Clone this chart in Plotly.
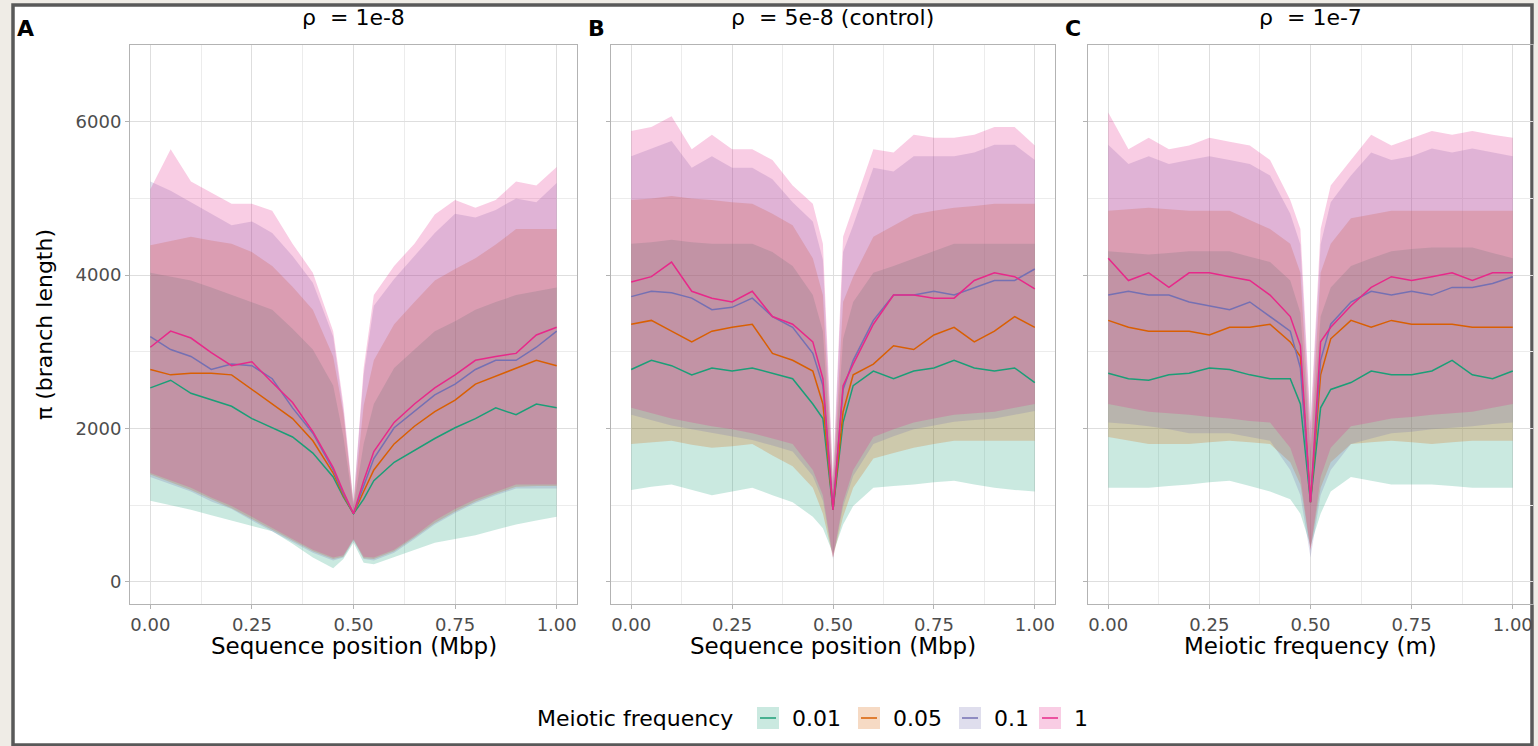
import plotly.graph_objects as go

# ---------------- data ----------------
X = [0.0, 0.05, 0.1, 0.15, 0.2, 0.25, 0.3, 0.35, 0.4, 0.45, 0.475, 0.5,
     0.525, 0.55, 0.6, 0.65, 0.7, 0.75, 0.8, 0.85, 0.9, 0.95, 1.0]

SERIES = ["0.01", "0.05", "0.1", "1"]
COLORS = ["#1B9E77", "#D95F02", "#7570B3", "#E7298A"]
PANEL_TITLES = ["ρ  = 1e-8", "ρ  = 5e-8 (control)", "ρ  = 1e-7"]
PANEL_TAGS = ["A", "B", "C"]
X_TITLES = ["Sequence position (Mbp)", "Sequence position (Mbp)", "Meiotic frequency (m)"]
Y_TITLE = "π (branch length)"
LEGEND_TITLE = "Meiotic frequency"
X_TICK_VALS = [0.0, 0.25, 0.5, 0.75, 1.0]
X_TICK_TEXT = ["0.00", "0.25", "0.50", "0.75", "1.00"]
X_MINOR = [0.125, 0.375, 0.625, 0.875]
Y_TICK_VALS = [0, 2000, 4000, 6000]
Y_MINOR = [1000, 3000, 5000]

# Panel A (rho = 1e-8)
A_green_mean = [2530, 2630, 2460, 2370, 2290, 2130, 2010, 1890, 1680, 1370, 1110, 890, 1080, 1320, 1560, 1720, 1870, 2010, 2130, 2270, 2180, 2320, 2270]
A_orange_mean = [2770, 2700, 2720, 2720, 2700, 2510, 2320, 2130, 1840, 1420, 1130, 890, 1180, 1460, 1800, 2030, 2220, 2370, 2580, 2680, 2790, 2890, 2820]
A_purple_mean = [3200, 3030, 2940, 2770, 2840, 2820, 2650, 2270, 1940, 1460, 1150, 890, 1250, 1610, 2010, 2220, 2440, 2580, 2770, 2890, 2890, 3060, 3270]
A_pink_mean = [3060, 3270, 3180, 2990, 2820, 2870, 2600, 2340, 1960, 1490, 1180, 890, 1320, 1700, 2080, 2320, 2530, 2700, 2890, 2940, 2980, 3220, 3320]

A_green_hi = [4030, 3980, 3930, 3840, 3740, 3650, 3550, 3300, 3030, 2560, 1900, 980, 1800, 2320, 2790, 3030, 3270, 3400, 3550, 3650, 3740, 3790, 3840]
A_orange_hi = [4390, 4450, 4500, 4450, 4410, 4300, 4120, 3850, 3550, 2940, 2200, 1000, 2300, 2890, 3360, 3650, 3930, 4080, 4220, 4400, 4600, 4600, 4600]
A_purple_hi = [5220, 5100, 4950, 4800, 4650, 4700, 4550, 4250, 3900, 3200, 2250, 1030, 2700, 3600, 3950, 4250, 4550, 4800, 4750, 4850, 5000, 4950, 5200]
A_pink_hi = [5120, 5640, 5220, 5070, 4930, 4930, 4840, 4410, 4030, 3270, 2320, 1050, 2790, 3740, 4120, 4410, 4790, 4980, 4880, 4980, 5220, 5170, 5410]

A_green_lo = [1060, 1000, 940, 870, 800, 730, 660, 500, 320, 180, 300, 510, 250, 230, 320, 420, 510, 560, 610, 680, 750, 800, 850]
A_orange_lo = [1400, 1300, 1200, 1080, 960, 820, 680, 540, 400, 300, 330, 550, 310, 300, 400, 580, 770, 920, 1050, 1150, 1240, 1250, 1250]
A_purple_lo = [1370, 1280, 1180, 1050, 950, 800, 660, 520, 380, 280, 320, 540, 300, 280, 380, 560, 750, 900, 1030, 1130, 1220, 1220, 1220]
A_pink_lo = [1420, 1320, 1230, 1100, 990, 850, 700, 560, 420, 320, 350, 560, 330, 320, 420, 600, 800, 950, 1080, 1180, 1270, 1270, 1270]

# Panel B (rho = 5e-8, control)
B_green_mean = [2770, 2890, 2820, 2700, 2790, 2750, 2790, 2720, 2650, 2320, 2130, 940, 2080, 2560, 2750, 2650, 2750, 2790, 2890, 2790, 2750, 2790, 2600]
B_orange_mean = [3360, 3410, 3270, 3130, 3270, 3320, 3360, 2980, 2890, 2750, 2320, 940, 2220, 2700, 2840, 3080, 3030, 3220, 3320, 3130, 3270, 3460, 3320]
B_purple_mean = [3720, 3790, 3770, 3700, 3550, 3580, 3700, 3460, 3320, 2980, 2560, 940, 2510, 2890, 3410, 3740, 3740, 3790, 3740, 3840, 3930, 3930, 4080]
B_pink_mean = [3910, 3980, 4170, 3790, 3700, 3650, 3790, 3460, 3360, 3130, 2650, 940, 2560, 2840, 3360, 3740, 3740, 3700, 3700, 3930, 4030, 3980, 3820]

B_green_hi = [4410, 4430, 4460, 4430, 4410, 4410, 4410, 4300, 4120, 3740, 3270, 1200, 3170, 3650, 4030, 4120, 4220, 4310, 4410, 4410, 4410, 4410, 4410]
B_orange_hi = [4980, 5000, 5030, 5000, 4980, 4950, 4930, 4800, 4650, 4220, 3740, 1250, 3650, 3980, 4500, 4650, 4790, 4840, 4880, 4900, 4930, 4930, 4930]
B_purple_hi = [5550, 5650, 5750, 5400, 5550, 5400, 5400, 5250, 4950, 4700, 4200, 1300, 4300, 4650, 5400, 5350, 5550, 5550, 5550, 5600, 5700, 5700, 5500]
B_pink_hi = [5880, 5930, 6070, 5640, 5830, 5640, 5640, 5500, 5170, 4930, 4410, 1370, 4500, 4880, 5640, 5600, 5830, 5790, 5790, 5830, 5930, 5930, 5690]

B_green_lo = [1200, 1240, 1270, 1200, 1130, 1180, 1230, 1130, 1040, 850, 700, 370, 750, 990, 1230, 1250, 1270, 1300, 1320, 1270, 1230, 1200, 1180]
B_orange_lo = [1800, 1820, 1840, 1790, 1750, 1770, 1800, 1650, 1510, 1230, 890, 320, 850, 1230, 1610, 1680, 1750, 1800, 1840, 1840, 1840, 1840, 1840]
B_purple_lo = [2180, 2110, 2040, 1990, 1940, 1900, 1850, 1780, 1700, 1380, 1060, 300, 980, 1380, 1800, 1900, 1990, 2040, 2090, 2110, 2130, 2180, 2230]
B_pink_lo = [2270, 2200, 2130, 2080, 2030, 1990, 1940, 1870, 1800, 1460, 1130, 320, 1040, 1460, 1890, 1990, 2080, 2130, 2180, 2200, 2220, 2270, 2320]

# Panel C (rho = 1e-7)
C_green_mean = [2720, 2650, 2630, 2700, 2720, 2790, 2770, 2700, 2650, 2650, 2320, 1040, 2270, 2510, 2600, 2750, 2700, 2700, 2750, 2890, 2700, 2650, 2750]
C_orange_mean = [3410, 3320, 3270, 3270, 3270, 3220, 3320, 3320, 3360, 3130, 2940, 1040, 2700, 3170, 3410, 3320, 3410, 3360, 3360, 3360, 3320, 3320, 3320]
C_purple_mean = [3740, 3790, 3740, 3740, 3650, 3600, 3550, 3650, 3460, 3270, 2790, 1040, 2890, 3360, 3650, 3790, 3740, 3790, 3740, 3840, 3840, 3890, 3980]
C_pink_mean = [4220, 3930, 4030, 3840, 4030, 4030, 3980, 3930, 3740, 3460, 3080, 1040, 3130, 3320, 3600, 3840, 3980, 3930, 3980, 4030, 3930, 4030, 4030]

C_green_hi = [4310, 4290, 4270, 4290, 4310, 4310, 4310, 4240, 4170, 3930, 3510, 1700, 3460, 3840, 4120, 4220, 4310, 4340, 4360, 4360, 4360, 4290, 4220]
C_orange_hi = [4840, 4860, 4880, 4860, 4840, 4840, 4840, 4720, 4600, 4410, 4030, 1800, 4030, 4410, 4740, 4790, 4840, 4840, 4840, 4840, 4840, 4840, 4840]
C_purple_hi = [5700, 5450, 5550, 5450, 5500, 5550, 5500, 5450, 5300, 4800, 4400, 2000, 4400, 4950, 5300, 5600, 5500, 5550, 5650, 5600, 5650, 5600, 5550]
C_pink_hi = [6120, 5640, 5790, 5640, 5690, 5790, 5740, 5690, 5500, 4980, 4600, 2080, 4600, 5170, 5500, 5830, 5690, 5790, 5880, 5830, 5880, 5830, 5790]

C_green_lo = [1230, 1230, 1230, 1250, 1270, 1300, 1320, 1250, 1180, 1080, 890, 470, 890, 1180, 1370, 1320, 1270, 1270, 1270, 1250, 1230, 1230, 1230]
C_orange_lo = [1890, 1840, 1800, 1800, 1800, 1820, 1840, 1820, 1800, 1560, 1270, 420, 1230, 1560, 1800, 1820, 1840, 1820, 1800, 1820, 1840, 1840, 1840]
C_purple_lo = [2080, 2060, 2030, 1990, 1940, 1940, 1940, 1890, 1840, 1460, 1130, 320, 1130, 1460, 1800, 1870, 1940, 1960, 1990, 2010, 2030, 2060, 2080]
C_pink_lo = [2320, 2270, 2220, 2200, 2180, 2150, 2130, 2100, 2080, 1750, 1370, 420, 1370, 1750, 2030, 2080, 2130, 2150, 2180, 2200, 2220, 2270, 2320]

PANELS = [
    {"mean": [A_green_mean, A_orange_mean, A_purple_mean, A_pink_mean],
     "hi": [A_green_hi, A_orange_hi, A_purple_hi, A_pink_hi],
     "lo": [A_green_lo, A_orange_lo, A_purple_lo, A_pink_lo]},
    {"mean": [B_green_mean, B_orange_mean, B_purple_mean, B_pink_mean],
     "hi": [B_green_hi, B_orange_hi, B_purple_hi, B_pink_hi],
     "lo": [B_green_lo, B_orange_lo, B_purple_lo, B_pink_lo]},
    {"mean": [C_green_mean, C_orange_mean, C_purple_mean, C_pink_mean],
     "hi": [C_green_hi, C_orange_hi, C_purple_hi, C_pink_hi],
     "lo": [C_green_lo, C_orange_lo, C_purple_lo, C_pink_lo]},
]

# ---------------- layout geometry (pixels) ----------------
W, H = 1538, 746
FONT = "DejaVu Sans"
ALPHA = 0.23
PANEL_X = [(130, 577), (611, 1055), (1088, 1533)]
PANEL_TOP, PANEL_BOTTOM = 45, 604


def px(x):
    return x / W


def py(y):
    return (H - y) / H


def rgba(hex_color, a):
    h = hex_color.lstrip("#")
    r, g, b = int(h[0:2], 16), int(h[2:4], 16), int(h[4:6], 16)
    return f"rgba({r},{g},{b},{a})"


fig = go.Figure()

for p, panel in enumerate(PANELS):
    xa = "x" if p == 0 else f"x{p + 1}"
    ya = "y" if p == 0 else f"y{p + 1}"
    # ribbons first
    for s, name in enumerate(SERIES):
        fig.add_trace(go.Scatter(x=X, y=panel["lo"][s], xaxis=xa, yaxis=ya, mode="lines",
                                 line=dict(width=0, color=COLORS[s]), showlegend=False,
                                 hoverinfo="skip"))
        fig.add_trace(go.Scatter(x=X, y=panel["hi"][s], xaxis=xa, yaxis=ya, mode="lines",
                                 line=dict(width=0, color=COLORS[s]), fill="tonexty",
                                 fillcolor=rgba(COLORS[s], ALPHA), showlegend=False,
                                 hoverinfo="skip"))
    # mean lines on top
    for s, name in enumerate(SERIES):
        fig.add_trace(go.Scatter(x=X, y=panel["mean"][s], xaxis=xa, yaxis=ya, mode="lines",
                                 line=dict(width=1.5, color=COLORS[s]), name=name,
                                 showlegend=False))

layout = dict(
    width=W, height=H,
    margin=dict(l=0, r=0, t=0, b=0),
    paper_bgcolor="#EFECE6",
    plot_bgcolor="white",
    showlegend=False,
    font=dict(family=FONT, color="black"),
)

for p in range(3):
    x0, x1 = PANEL_X[p]
    xkey = "xaxis" if p == 0 else f"xaxis{p + 1}"
    ykey = "yaxis" if p == 0 else f"yaxis{p + 1}"
    xa = "x" if p == 0 else f"x{p + 1}"
    ya = "y" if p == 0 else f"y{p + 1}"
    layout[xkey] = dict(
        domain=[px(x0), px(x1)], anchor=ya, range=[-0.05, 1.05],
        tickmode="array", tickvals=X_TICK_VALS, ticktext=X_TICK_TEXT,
        showline=True, mirror=True, linecolor="#b3b3b3", linewidth=1,
        ticks="outside", ticklen=4, tickcolor="#b3b3b3", tickwidth=1,
        showgrid=True, gridcolor="#dedede", gridwidth=1, zeroline=False,
        tickfont=dict(family=FONT, size=18, color="#4d4d4d"),
        minor=dict(tickvals=X_MINOR, showgrid=True, gridcolor="#ececec", gridwidth=0.6, ticks=""),
    )
    layout[ykey] = dict(
        domain=[py(PANEL_BOTTOM), py(PANEL_TOP)], anchor=xa, range=[-287, 7000],
        tickmode="array", tickvals=Y_TICK_VALS, ticktext=[str(v) for v in Y_TICK_VALS],
        showticklabels=(p == 0),
        showline=True, mirror=True, linecolor="#b3b3b3", linewidth=1,
        ticks="outside", ticklen=4, tickcolor="#b3b3b3", tickwidth=1,
        showgrid=True, gridcolor="#dedede", gridwidth=1, zeroline=False,
        tickfont=dict(family=FONT, size=18, color="#4d4d4d"),
        minor=dict(tickvals=Y_MINOR, showgrid=True, gridcolor="#ececec", gridwidth=0.6, ticks=""),
    )

shapes = [
    dict(type="rect", xref="paper", yref="paper", x0=px(13), x1=px(1532), y0=py(745), y1=py(5),
         fillcolor="white", line=dict(color="#595959", width=3.5), layer="below"),
]

annotations = []
for p in range(3):
    x0, x1 = PANEL_X[p]
    cx = (x0 + x1) / 2
    annotations.append(dict(text=PANEL_TITLES[p], xref="paper", yref="paper", x=px(cx), y=py(17),
                            xanchor="center", yanchor="middle", showarrow=False,
                            font=dict(family=FONT, size=22, color="black")))
    annotations.append(dict(text=X_TITLES[p], xref="paper", yref="paper", x=px(cx), y=py(646),
                            xanchor="center", yanchor="middle", showarrow=False,
                            font=dict(family=FONT, size=23, color="black")))
tag_pos = [(25, 28), (596, 28), (1073, 28)]
for p in range(3):
    annotations.append(dict(text=f"<b>{PANEL_TAGS[p]}</b>", xref="paper", yref="paper",
                            x=px(tag_pos[p][0]), y=py(tag_pos[p][1]), xanchor="center",
                            yanchor="middle", showarrow=False,
                            font=dict(family=FONT, size=22, color="black")))
annotations.append(dict(text=Y_TITLE, xref="paper", yref="paper", x=px(45), y=py(325),
                        xanchor="center", yanchor="middle", textangle=-90, showarrow=False,
                        font=dict(family=FONT, size=22, color="black")))

# custom legend (ribbon key with line)
LEG_Y = 718
annotations.append(dict(text=LEGEND_TITLE, xref="paper", yref="paper", x=px(535), y=py(LEG_Y),
                        xanchor="left", yanchor="middle", showarrow=False,
                        font=dict(family=FONT, size=22, color="black")))
key_left = [757, 858, 959, 1039]
for s, name in enumerate(SERIES):
    kx = key_left[s]
    shapes.append(dict(type="rect", xref="paper", yref="paper", x0=px(kx), x1=px(kx + 22),
                       y0=py(LEG_Y + 11), y1=py(LEG_Y - 11), fillcolor=rgba(COLORS[s], ALPHA),
                       line=dict(width=0)))
    shapes.append(dict(type="line", xref="paper", yref="paper", x0=px(kx + 3), x1=px(kx + 19),
                       y0=py(LEG_Y), y1=py(LEG_Y), line=dict(color=COLORS[s], width=1.5)))
    annotations.append(dict(text=name, xref="paper", yref="paper", x=px(kx + 33), y=py(LEG_Y),
                            xanchor="left", yanchor="middle", showarrow=False,
                            font=dict(family=FONT, size=22, color="black")))

layout["shapes"] = shapes
layout["annotations"] = annotations
fig.update_layout(**layout)

fig.write_html("out.html", config={"displayModeBar": False},
               post_script="document.body.style.margin='0';document.body.style.overflow='hidden';")
